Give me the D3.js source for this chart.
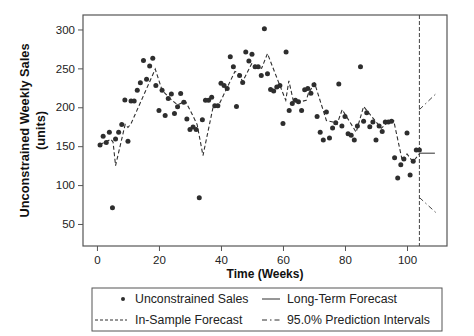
<!DOCTYPE html>
<html><head><meta charset="utf-8">
<script src="https://cdn.jsdelivr.net/npm/d3@7"></script>
<style>body{margin:0;background:#fff}svg{display:block;font-family:"Liberation Sans",Arial,sans-serif}</style>
</head><body><svg id="c" width="474" height="336"></svg>
<script>
// Observed weekly sales, weeks 1..104
const sales = [151.5,162.7,154.6,167.9,71,159.3,168,177.8,209.2,156.3,
208,208,222,231.5,260,235.9,253,263,228,196,
222,189.4,211.3,217,192,200.6,217.8,206.6,185,171.3,
174.7,171.3,83.6,184,209,209,213,202,202,231,
228,224,265,252,201,241,232,271,259.5,268,
252,252,241,301,243,223,221,226,228,179,
271,196,205,209,207,196,222.5,224,218,229,
188,168,158,194,160.6,173.5,180,230,176,188,
166,164,158,176,252,182,193,175,181,158,
176,169,181,181,182,135,109,126,133.5,167,
113,130.5,145,145];
// In-sample forecast (vertices)
const fitWeeks = [1,4.5,5.2,6,9.1,10,11,18.8,21,23.6,26,28.5,30.2,32.3,34.2,37.5,39.3,44.5,45.6,47,49.9,53.1,55,58.5,60.9,61.9,63.3,65.5,67.5,68.2,70.2,74,76.1,77.4,79.1,83.6,86,91.7,93.9,95.7,98.5,100,101.9,104];
const fitValues = [152,159,155,125,178,174,179,249,222,211,203,208,195,178,138,201,203,246,244,233,256,250,269,233,209,234,209,207,209,218,231,183,181,178,197,168,201,173,181,183,131,140,130,140];
// Long-term forecast and 95% prediction intervals
const fcWeeks = [104,109];
const fcValues = [141,141];
const piWeeks = [104,109.5];
const piUpper = [197,218];
const piLower = [84,64];
const forecastOrigin = 104;
const xTicks = [0,20,40,60,80,100];
const yTicks = [50,100,150,200,250,300];

const svg = d3.select("#c");
const L=83,R=447,T=15,B=246;
const x = d3.scaleLinear().domain([-4.5,112.9]).range([L,R]);
const y = d3.scaleLinear().domain([21.7,318.6]).range([B,T]);
const ink="#2e2e2e";

// frame
svg.append("rect").attr("x",L).attr("y",T).attr("width",R-L).attr("height",B-T)
  .attr("fill","none").attr("stroke","#555").attr("stroke-width",1.2);

const yAx = svg.append("g").attr("transform",`translate(${L},0)`)
  .call(d3.axisLeft(y).tickValues(yTicks).tickSize(5).tickPadding(3));
const xAx = svg.append("g").attr("transform",`translate(0,${B})`)
  .call(d3.axisBottom(x).tickValues(xTicks).tickSize(5).tickPadding(5));
[yAx,xAx].forEach(g=>{
  g.select(".domain").remove();
  g.selectAll("line").attr("stroke","#555");
  g.selectAll("text").attr("font-size","11.5px").attr("fill","#222").attr("font-family","Liberation Sans, Arial, sans-serif");
});

// vertical dashed line at forecast origin
svg.append("line").attr("x1",x(forecastOrigin)).attr("x2",x(forecastOrigin))
  .attr("y1",T).attr("y2",B).attr("stroke","#444").attr("stroke-width",1)
  .attr("stroke-dasharray","4,2");

const line = d3.line().x(d=>x(d[0])).y(d=>y(d[1]));
// in-sample forecast
svg.append("path").datum(fitWeeks.map((w,i)=>[w,fitValues[i]]))
  .attr("d",line).attr("fill","none").attr("stroke",ink).attr("stroke-width",1.1)
  .attr("stroke-dasharray","4,2.5");
// long-term forecast
svg.append("path").datum(fcWeeks.map((w,i)=>[w,fcValues[i]]))
  .attr("d",line).attr("fill","none").attr("stroke",ink).attr("stroke-width",1);
// prediction intervals
[piUpper,piLower].forEach(arr=>{
  svg.append("path").datum(piWeeks.map((w,i)=>[w,arr[i]]))
    .attr("d",line).attr("fill","none").attr("stroke","#444").attr("stroke-width",1)
    .attr("stroke-dasharray","5,3,1.5,3");
});
// points
svg.append("g").selectAll("circle").data(sales).join("circle")
  .attr("cx",(d,i)=>x(i+1)).attr("cy",d=>y(d)).attr("r",2.5).attr("fill",ink);

// axis titles
svg.append("text").attr("x",(L+R)/2).attr("y",278).attr("text-anchor","middle")
  .attr("font-size","12px").attr("font-weight","bold").attr("fill","#111").text("Time (Weeks)");
const yt = svg.append("text").attr("transform",`translate(29,${(T+B)/2}) rotate(-90)`)
  .attr("text-anchor","middle").attr("font-size","12.8px").attr("font-weight","bold").attr("fill","#111");
yt.append("tspan").attr("x",0).attr("dy",0).text("Unconstrained Weekly Sales");
yt.append("tspan").attr("x",0).attr("dy",15.5).text("(units)");

// legend
const lg = svg.append("g");
lg.append("rect").attr("x",92).attr("y",288).attr("width",350).attr("height",43)
  .attr("fill","#fff").attr("stroke","#555").attr("stroke-width",1);
const r1=299, r2=320;
lg.append("circle").attr("cx",123).attr("cy",r1).attr("r",2).attr("fill",ink);
lg.append("line").attr("x1",262).attr("x2",280).attr("y1",r1).attr("y2",r1).attr("stroke",ink);
lg.append("line").attr("x1",95).attr("x2",127).attr("y1",r2).attr("y2",r2).attr("stroke",ink).attr("stroke-dasharray","3,2");
lg.append("line").attr("x1",262).attr("x2",280).attr("y1",r2).attr("y2",r2).attr("stroke",ink).attr("stroke-dasharray","5,3,1.5,3");
const lt=[[135,r1,"Unconstrained Sales"],[287,r1,"Long-Term Forecast"],[135,r2,"In-Sample Forecast"],[287,r2,"95.0% Prediction Intervals"]];
lg.selectAll("text.l").data(lt).join("text").attr("x",d=>d[0]).attr("y",d=>d[1]).attr("dy","0.35em")
  .attr("font-size","12.3px").attr("fill","#222").text(d=>d[2]);
</script></body></html>
